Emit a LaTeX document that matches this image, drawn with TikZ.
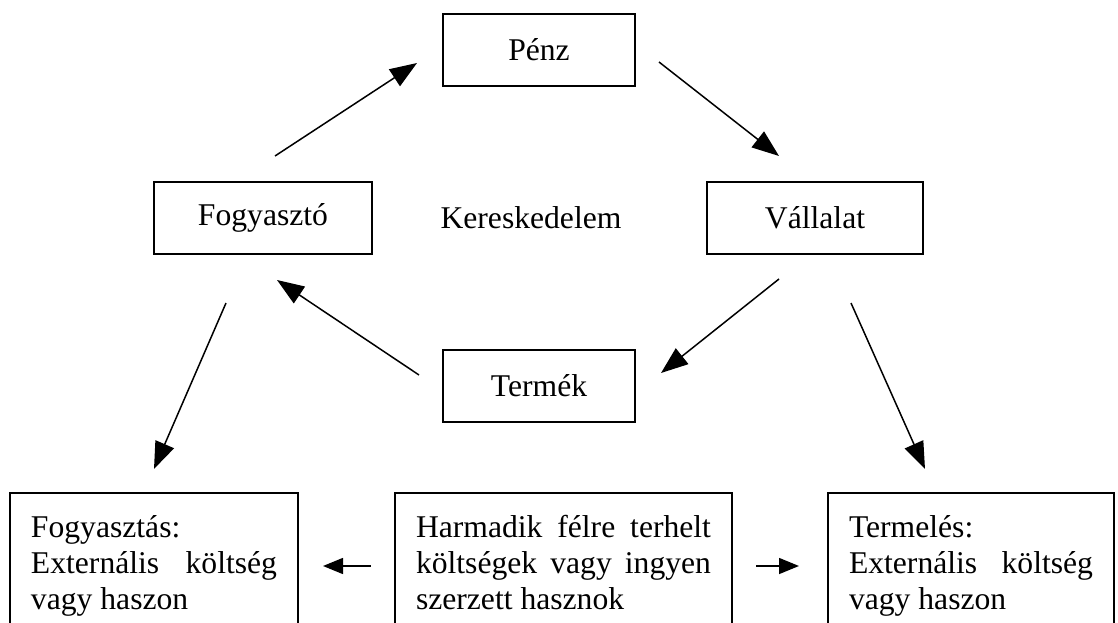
\documentclass[tikz,border=0pt]{standalone}
\usepackage{fontspec}
\setmainfont{Liberation Serif}
\usetikzlibrary{arrows.meta, positioning, calc}

\begin{document}
\begin{tikzpicture}[x=0.2mm, y=-0.2mm, font=\fontsize{18pt}{20.5pt}\selectfont,
  box/.style={draw, line width=0.4mm, minimum height=14.4mm},
  textbox/.style={draw, line width=0.4mm, align=justify, inner xsep=4.2mm, inner ysep=3.8mm},
  arr/.style={-{Triangle[length=5.4mm, width=4mm]}, line width=0.3mm},
  sarr/.style={-{Triangle[length=4mm, width=3.2mm]}, line width=0.3mm}]
\useasboundingbox (0,0) rectangle (1118,623);
\clip (0,0) rectangle (1118,623);

% The trade cycle
\node[box, minimum width=38.4mm] (penz) at (539,50) {Pénz};
\node[box, minimum width=43.6mm] (fogy) at (263,218) {Fogyasztó};
\node (ker) at (531,218) {Kereskedelem};
\node[box, minimum width=43.2mm] (vall) at (815,218) {Vállalat};
\node[box, minimum width=38.4mm] (termek) at (539,386) {Termék};

% External effects (cut at the bottom)
\node[textbox, text width=49.2mm] (fogyext) at (154,566) {\strut Fogyasztás:\\ Externális költség\linebreak vagy haszon\strut};
\node[textbox, text width=59mm] (third) at (563.5,566) {\strut Harmadik félre terhelt\linebreak költségek vagy ingyen\linebreak szerzett hasznok\strut};
\node[textbox, text width=48.8mm] (termext) at (971,566) {\strut Termelés:\\ Externális költség\linebreak vagy haszon\strut};

% Arrows of the cycle
\draw[arr] ([xshift=2.4mm, yshift=5mm]fogy.north) -- ([xshift=-5mm, yshift=-2.6mm]penz.west);
\draw[arr] ([xshift=4.6mm, yshift=-2.4mm]penz.east) -- ([xshift=-7.2mm, yshift=5mm]vall.north);
\draw[arr] ([xshift=-7.2mm, yshift=-4.8mm]vall.south) -- ([xshift=5mm, yshift=2.6mm]termek.east);
\draw[arr] ([xshift=-4.6mm, yshift=2.2mm]termek.west) -- ([xshift=2.8mm, yshift=-5mm]fogy.south);

% Arrows down to the external effects
\draw[arr] ([xshift=-7.4mm, yshift=-9.6mm]fogy.south) -- ([yshift=4.6mm]fogyext.north);
\draw[arr] ([xshift=7.2mm, yshift=-9.6mm]vall.south) -- ([xshift=-9.2mm, yshift=4.6mm]termext.north);
\draw[sarr] ([xshift=-4.6mm]third.west) -- ([xshift=4.8mm]fogyext.east);
\draw[sarr] ([xshift=4.6mm]third.east) -- ([xshift=-5.6mm]termext.west);
\end{tikzpicture}
\end{document}
